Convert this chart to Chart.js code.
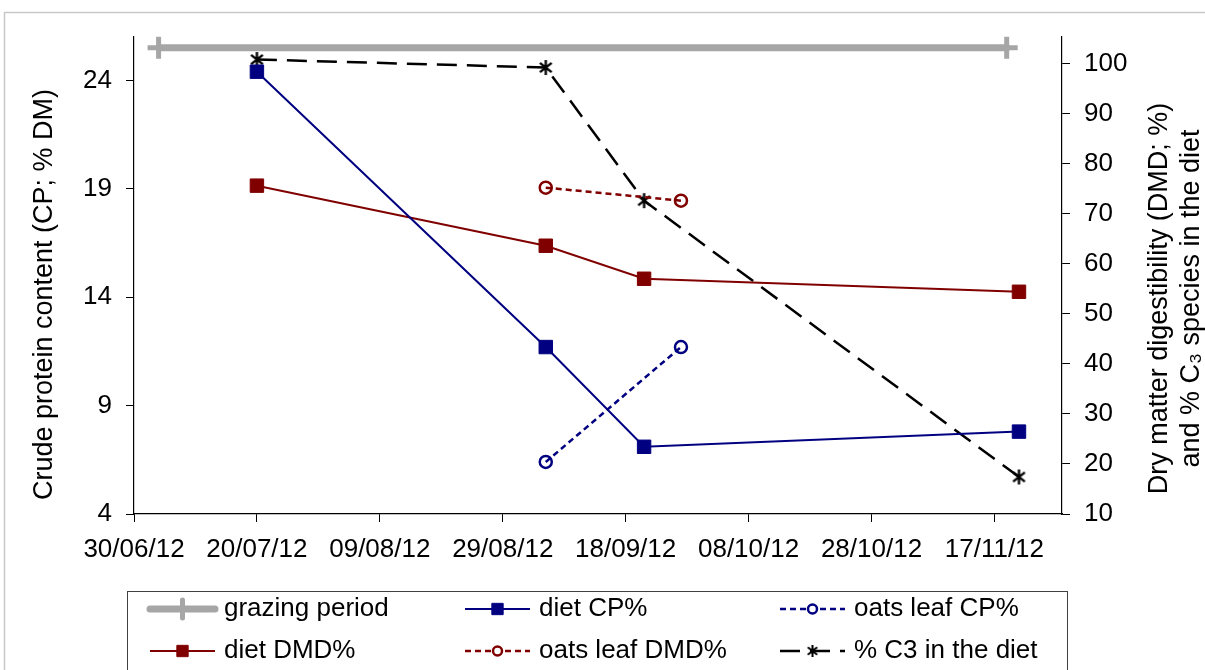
<!DOCTYPE html>
<html><head><meta charset="utf-8">
<script src="https://cdn.jsdelivr.net/npm/chart.js@4/dist/chart.umd.min.js"></script>
<style>html,body{margin:0;padding:0;background:#fff;}#wrap{position:relative;width:1205px;height:670px;}canvas{display:block}</style>
</head><body><div id="wrap"><canvas id="c" width="1205" height="670"></canvas></div>
<script>
// ---------- data ----------
const X_ORIGIN = '2012-06-30';
const X_MAX_DATE = '2012-11-28';
const X_TICK_DATES = ['2012-06-30','2012-07-20','2012-08-09','2012-08-29','2012-09-18','2012-10-08','2012-10-28','2012-11-17'];
const CP_TICKS = [4, 9, 14, 19, 24];
const DMD_TICKS = [10, 20, 30, 40, 50, 60, 70, 80, 90, 100];
const CP_RANGE = [4, 26];
const DMD_RANGE = [10, 105.3];

const GRAZING_DATES = ['2012-07-04', '2012-11-19'];
const GRAZING_LEVEL = [25.5, 25.5];
const DIET_DATES = ['2012-07-20', '2012-09-05', '2012-09-21', '2012-11-21'];
const DIET_CP = [24.4, 11.7, 7.1, 7.8];
const DIET_DMD = [75.6, 63.6, 57.0, 54.4];
const OATS_DATES = ['2012-09-05', '2012-09-27'];
const OATS_CP = [6.4, 11.7];
const OATS_DMD = [75.2, 72.6];
const C3_DATES = ['2012-07-20', '2012-09-05', '2012-09-21', '2012-11-21'];
const C3_SHARE = [100.8, 99.2, 72.6, 17.4];

const SERIES_NAMES = ['grazing period', 'diet CP%', 'oats leaf CP%', 'diet DMD%', 'oats leaf DMD%', '% C3 in the diet'];
const Y_LEFT_TITLE = 'Crude protein content (CP; % DM)';
const Y_RIGHT_TITLE = ['Dry matter digestibility (DMD; %)', 'and % C\u2083 species in the diet'];

// ---------- helpers ----------
const DAY = 86400000;
const days = d => (Date.parse(d) - Date.parse(X_ORIGIN)) / DAY;
const pts = (dates, vals) => dates.map((d, i) => ({x: days(d), y: vals[i]}));
const fmtDate = v => {
  const dt = new Date(Date.parse(X_ORIGIN) + Math.round(v) * DAY);
  const p = n => String(n).padStart(2, '0');
  return p(dt.getUTCDate()) + '/' + p(dt.getUTCMonth() + 1) + '/' + p(dt.getUTCFullYear() % 100);
};
const FAMILY = '"Liberation Sans", Arial, sans-serif';
const FS = 26, TITLE_FS = 27;

const NAVY = '#000080', MAROON = '#800000', GREY = '#A6A6A6';

// six-armed asterisk marker (Excel-like)
function asterisk(size, lw) {
  const c = document.createElement('canvas');
  c.width = c.height = size;
  const g = c.getContext('2d');
  const m = size / 2, r = size / 2 - 1;
  g.strokeStyle = '#000'; g.lineWidth = lw; g.lineCap = 'butt';
  g.beginPath();
  g.moveTo(m, m - r); g.lineTo(m, m + r);
  const d = r * 0.78;
  g.moveTo(m - d, m - d * 0.8); g.lineTo(m + d, m + d * 0.8);
  g.moveTo(m + d, m - d * 0.8); g.lineTo(m - d, m + d * 0.8);
  g.stroke();
  return c;
}
const STAR_MARK = asterisk(17, 2.4);
const STAR_MARK_SMALL = asterisk(14, 2);

const datasets = [
  {label: SERIES_NAMES[0], data: pts(GRAZING_DATES, GRAZING_LEVEL), yAxisID: 'yL',
   borderColor: GREY, backgroundColor: GREY, borderWidth: 7, borderCapStyle: 'round',
   pointStyle: 'cross', pointRadius: 11, pointBorderWidth: 5, pointBorderColor: GREY, lgR: 9},
  {label: SERIES_NAMES[1], data: pts(DIET_DATES, DIET_CP), yAxisID: 'yL',
   borderColor: NAVY, backgroundColor: NAVY, borderWidth: 2,
   pointStyle: 'rect', pointRadius: 9.5, pointBorderWidth: 1, pointBorderColor: NAVY, pointBackgroundColor: NAVY, lgR: 8},
  {label: SERIES_NAMES[2], data: pts(OATS_DATES, OATS_CP), yAxisID: 'yL',
   borderColor: NAVY, borderWidth: 2.5, borderDash: [6, 4],
   pointStyle: 'circle', pointRadius: 6, pointBorderWidth: 2.5, pointBorderColor: NAVY, pointBackgroundColor: 'rgba(0,0,0,0)', lgR: 4.5},
  {label: SERIES_NAMES[3], data: pts(DIET_DATES, DIET_DMD), yAxisID: 'yR',
   borderColor: MAROON, backgroundColor: MAROON, borderWidth: 2,
   pointStyle: 'rect', pointRadius: 9.5, pointBorderWidth: 1, pointBorderColor: MAROON, pointBackgroundColor: MAROON, lgR: 8},
  {label: SERIES_NAMES[4], data: pts(OATS_DATES, OATS_DMD), yAxisID: 'yR',
   borderColor: MAROON, borderWidth: 2.5, borderDash: [6, 4],
   pointStyle: 'circle', pointRadius: 6, pointBorderWidth: 2.5, pointBorderColor: MAROON, pointBackgroundColor: 'rgba(0,0,0,0)', lgR: 4.5},
  {label: SERIES_NAMES[5], data: pts(C3_DATES, C3_SHARE), yAxisID: 'yR',
   borderColor: '#000', borderWidth: 2.5, borderDash: [20, 10],
   pointStyle: STAR_MARK, pointRadius: 8, pointBorderWidth: 2.5, pointBorderColor: '#000', pointBackgroundColor: '#000', lgR: 6, lgStyle: STAR_MARK_SMALL}
];
datasets.forEach(d => { d.fill = false; d.tension = 0; d.clip = false; d.pointHoverRadius = d.pointRadius; });

const frame = {
  id: 'frame',
  beforeDraw(chart) {
    const ctx = chart.ctx;
    ctx.save();
    ctx.fillStyle = '#fff'; ctx.fillRect(0, 0, chart.width, chart.height);
    ctx.strokeStyle = '#c8c8c8'; ctx.lineWidth = 1.5;
    ctx.strokeRect(4.5, 12.5, 1400, 800);
    ctx.restore();
  },
  afterDraw(chart) {
    const ctx = chart.ctx, a = chart.chartArea;
    ctx.save();
    ctx.fillStyle = '#000';
    ctx.font = TITLE_FS + 'px ' + FAMILY;
    ctx.textAlign = 'center'; ctx.textBaseline = 'middle';
    const cy = (a.top + a.bottom) / 2;
    ctx.save(); ctx.translate(45, cy + 19); ctx.rotate(-Math.PI / 2); ctx.fillText(Y_LEFT_TITLE, 0, 0); ctx.restore();
    ctx.save(); ctx.translate(1160, cy + 23); ctx.rotate(-Math.PI / 2); ctx.fillText(Y_RIGHT_TITLE[0], 0, 0); ctx.restore();
    ctx.save(); ctx.translate(1192, cy + 23); ctx.rotate(-Math.PI / 2); ctx.fillText(Y_RIGHT_TITLE[1], 0, 0); ctx.restore();

    // legend box
    ctx.font = FS + 'px ' + FAMILY;
    ctx.strokeStyle = '#404040'; ctx.lineWidth = 1;
    ctx.strokeRect(127.5, 591.5, 940, 120);
    const cols = [150, 465, 780], rows = [609, 651];
    const ds = chart.data.datasets;
    ds.forEach((d, i) => {
      const x0 = cols[i % 3], y = rows[Math.floor(i / 3)], x1 = x0 + 65;
      ctx.save();
      ctx.strokeStyle = d.borderColor; ctx.lineWidth = Math.min(d.borderWidth, 7);
      ctx.lineCap = d.borderCapStyle || 'butt';
      ctx.setLineDash(d.borderDash || []);
      ctx.beginPath(); ctx.moveTo(x0, y); ctx.lineTo(x1, y); ctx.stroke();
      ctx.setLineDash([]);
      ctx.strokeStyle = d.pointBorderColor; ctx.fillStyle = d.pointBackgroundColor || '#fff';
      ctx.lineWidth = d.pointBorderWidth;
      if (d.pointStyle === 'circle') { ctx.fillStyle = '#fff'; }
      Chart.helpers.drawPoint(ctx, {pointStyle: d.lgStyle || d.pointStyle, radius: d.lgR, borderWidth: d.pointBorderWidth, rotation: 0}, x0 + 32.5, y);
      ctx.restore();
      ctx.fillStyle = '#000'; ctx.textAlign = 'left';
      ctx.fillText(d.label, x1 + 9, y);
    });
    ctx.restore();
  }
};

const gridOpts = {display: true, drawOnChartArea: false, drawTicks: true, tickLength: 8, color: '#000', lineWidth: 1};
const borderOpts = {display: true, color: '#000', width: 1.2};
const tickFont = {family: FAMILY, size: FS};

new Chart(document.getElementById('c'), {
  type: 'line',
  data: {datasets},
  options: {
    responsive: false, animation: false, devicePixelRatio: 1,
    layout: {padding: {left: 0, right: 0, top: 37, bottom: 96}},
    plugins: {legend: {display: false}, tooltip: {enabled: false}},
    scales: {
      x: {type: 'linear', position: 'bottom', min: 0, max: days(X_MAX_DATE),
          grid: gridOpts, border: borderOpts,
          afterBuildTicks: s => { s.ticks = X_TICK_DATES.map(d => ({value: days(d)})); },
          afterFit: s => { s.height = 60; },
          ticks: {autoSkip: false, maxRotation: 0, minRotation: 0, padding: 12, color: '#000', font: tickFont, callback: v => fmtDate(v)}},
      yL: {type: 'linear', position: 'left', min: CP_RANGE[0], max: CP_RANGE[1],
          grid: gridOpts, border: borderOpts,
          afterBuildTicks: s => { s.ticks = CP_TICKS.map(v => ({value: v})); },
          afterFit: s => { s.width = 134; },
          ticks: {padding: 14, color: '#000', font: tickFont}},
      yR: {type: 'linear', position: 'right', min: DMD_RANGE[0], max: DMD_RANGE[1],
          grid: gridOpts, border: borderOpts,
          afterBuildTicks: s => { s.ticks = DMD_TICKS.map(v => ({value: v})); },
          afterFit: s => { s.width = 143; },
          ticks: {padding: 14, color: '#000', font: tickFont}}
    }
  },
  plugins: [frame]
});
</script>
</body></html>
